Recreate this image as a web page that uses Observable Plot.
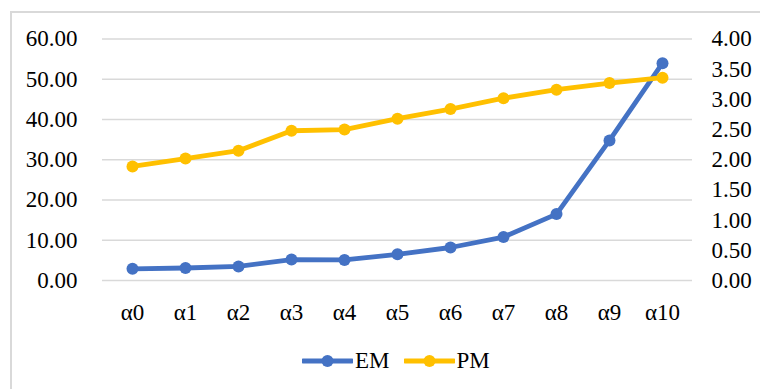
<!DOCTYPE html>
<html>
<head>
<meta charset="utf-8">
<script src="https://cdn.jsdelivr.net/npm/d3@7"></script>
<script src="https://cdn.jsdelivr.net/npm/@observablehq/plot@0.6"></script>
<style>
  html, body { margin: 0; padding: 0; background: #fff; }
  #wrap { position: relative; width: 760px; height: 389px; overflow: hidden; font-family: "Liberation Serif", "Times New Roman", serif; }
  #frame { position: absolute; left: 10px; top: 11px; width: 800px; height: 420px; border: 2px solid #d9d9d9; box-sizing: border-box; }
  #chart { position: absolute; left: 0; top: 0; }
  #legend { position: absolute; left: 302px; top: 348px; display: flex; align-items: center; font-size: 23px; color: #000; }
  .item { display: flex; align-items: center; }
  .item svg { display: block; }
  .item span { margin-left: 2px; }
</style>
</head>
<body>
<div id="wrap">
  <div id="frame"></div>
  <div id="chart"></div>
  <div id="legend"></div>
</div>
<script>
const categories = ["α0", "α1", "α2", "α3", "α4", "α5", "α6", "α7", "α8", "α9", "α10"];
const emValues = [2.9, 3.1, 3.5, 5.2, 5.1, 6.5, 8.2, 10.8, 16.5, 34.8, 54.0];
const pmValues = [1.89, 2.02, 2.15, 2.48, 2.50, 2.68, 2.84, 3.02, 3.16, 3.27, 3.36];
const leftTicks = [0, 10, 20, 30, 40, 50, 60];
const rightTicks = [0, 0.5, 1, 1.5, 2, 2.5, 3, 3.5, 4];
const seriesNames = ["EM", "PM"];
const seriesColors = ["#4472C4", "#FFC000"];

const leftMax = 60, rightMax = 4, ratio = leftMax / rightMax;

const rows = categories.map((c, i) => ({cat: c, em: emValues[i], pm: pmValues[i]}));

const chart = Plot.plot({
  width: 760,
  height: 335,
  marginLeft: 102,
  marginRight: 68,
  marginTop: 38.5,
  marginBottom: 55,
  x: {type: "point", domain: categories, padding: 0.5, label: null},
  y: {domain: [0, leftMax], label: null},
  style: {fontFamily: "'Liberation Serif', 'Times New Roman', serif", fontSize: "23px", color: "#000", background: "transparent"},
  marks: [
    Plot.gridY(leftTicks, {stroke: "#d9d9d9", strokeOpacity: 1, strokeWidth: 1.5}),
    Plot.axisY(leftTicks, {anchor: "left", tickSize: 0, tickPadding: 25, tickFormat: d => d.toFixed(2), label: null, fontSize: 23}),
    Plot.axisY(rightTicks.map(v => v * ratio), {anchor: "right", tickSize: 0, tickPadding: 19, tickFormat: d => (d / ratio).toFixed(2), label: null, fontSize: 23}),
    Plot.axisX({tickSize: 0, tickPadding: 23, label: null, fontSize: 23}),
    Plot.line(rows, {x: "cat", y: "em", stroke: seriesColors[0], strokeWidth: 4.8}),
    Plot.dot(rows, {x: "cat", y: "em", fill: seriesColors[0], r: 6}),
    Plot.line(rows, {x: "cat", y: d => d.pm * ratio, stroke: seriesColors[1], strokeWidth: 4.8}),
    Plot.dot(rows, {x: "cat", y: d => d.pm * ratio, fill: seriesColors[1], r: 6})
  ]
});
document.getElementById("chart").appendChild(chart);

const legend = document.getElementById("legend");
seriesNames.forEach((name, i) => {
  const item = document.createElement("div");
  item.className = "item";
  if (i > 0) item.style.marginLeft = "14px";
  item.innerHTML = `<svg width="51" height="14"><line x1="1" y1="7" x2="50" y2="7" stroke="${seriesColors[i]}" stroke-width="4.8" stroke-linecap="round"/><circle cx="25.5" cy="7" r="6" fill="${seriesColors[i]}"/></svg><span>${name}</span>`;
  legend.appendChild(item);
});
</script>
</body>
</html>
